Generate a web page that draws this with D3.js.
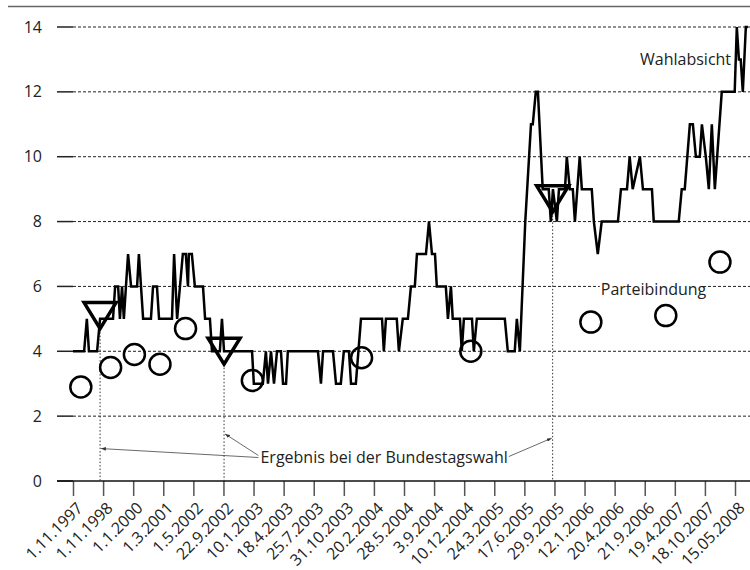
<!DOCTYPE html>
<html>
<head>
<meta charset="utf-8">
<script src="https://cdn.jsdelivr.net/npm/d3@7"></script>
<style>
  body { margin: 0; background: #fff; }
  svg { display: block; }
  text { font-family: "Open Sans", sans-serif; fill: #222; }
</style>
</head>
<body>
<script>
// tick labels of the x axis (one every 10 measurements)
const xLabels = ["1.11.1997", "1.11.1998", "1.1.2000", "1.3.2001", "1.5.2002", "22.9.2002",
  "10.1.2003", "18.4.2003", "25.7.2003", "31.10.2003", "20.2.2004", "28.5.2004", "3.9.2004",
  "10.12.2004", "24.3.2005", "17.6.2005", "29.9.2005", "12.1.2006", "20.4.2006", "21.9.2006",
  "19.4.2007", "18.10.2007", "15.05.2008"];
const yTicks = [0, 2, 4, 6, 8, 10, 12, 14];

// Wahlabsicht: measurement index and value at each corner of the line
const messpunkt = [0, 3.7, 4.6, 5.3, 8.0, 9.0, 13.3, 14.0, 15.0, 15.6, 16.3, 16.9, 18.3, 19.3,
  21.3, 21.9, 23.3, 25.9, 26.6, 27.9, 28.6, 32.9, 33.6, 34.6, 36.5, 37.5, 38.2, 38.5, 39.5,
  40.5, 43.2, 43.9, 45.5, 46.2, 48.8, 49.5, 50.2, 59.5, 60.1, 63.1, 64.1, 64.8, 65.8, 66.8,
  67.8, 69.1, 69.8, 70.8, 71.4, 81.4, 82.4, 83.1, 86.4, 87.4, 89.0, 90.0, 91.7, 92.4, 94.0,
  95.7, 102.7, 103.3, 104.0, 107.6, 108.3, 109.6, 111.3, 112.3, 113.6, 114.3, 117.3, 118.3,
  119.3, 120.3, 120.9, 123.9, 124.6, 125.6, 126.2, 128.6, 129.2, 129.9, 132.6, 133.2, 134.2,
  143.5, 144.5, 146.8, 147.5, 148.5, 150.3, 152.2, 152.8, 153.8, 154.5, 156.1, 158.1, 158.8,
  159.5, 160.8, 161.5, 163.5, 164.1, 165.1, 166.1, 166.8, 168.4, 169.1, 172.4, 173.1, 174.4,
  175.7, 181.1, 182.1, 184.1, 185.0, 186.0, 188.4, 189.4, 192.4, 193.0, 201.3, 202.3, 203.3,
  205.0, 206.0, 207.0, 208.3, 209.0, 210.3, 211.3, 212.3, 213.3, 215.6, 219.9, 220.6, 221.3,
  221.9, 222.6, 223.6, 224.3];
const wahlabsicht = [4, 4, 5, 4, 4, 5, 5, 6, 6, 5, 6, 5, 7, 6,
  6, 7, 5, 5, 6, 6, 5, 5, 7, 5, 7, 7, 6, 7, 7,
  6, 6, 5, 5, 4, 4, 5, 4, 4, 3, 3, 4, 3, 4, 3,
  4, 4, 3, 3, 4, 4, 3, 4, 4, 3, 3, 4, 4, 3, 3,
  5, 5, 4, 5, 5, 4, 5, 5, 6, 6, 7, 7, 8,
  7, 7, 6, 6, 5, 6, 5, 5, 4, 5, 5, 4, 5,
  5, 4, 4, 5, 4, 8, 11, 11, 12, 12, 9, 9, 8,
  9, 8, 9, 9, 10, 9, 9, 8, 10, 9, 9, 8, 7,
  8, 8, 9, 9, 10, 9, 10, 9, 9, 8, 8, 9, 9,
  11, 11, 10, 10, 11, 10, 9, 11, 9, 12, 12, 14, 13,
  13, 12, 14, 14];

// Ergebnis bei der Bundestagswahl (1998, 2002, 2005)
const wahlPos = [9.0, 50.2, 159.4];
const wahlErgebnis = [5.1, 4.0, 8.7];

// Parteibindung
const bindungPos = [2.6, 12.5, 20.4, 28.9, 37.4, 59.6, 95.9, 132.2, 172.1, 197.0, 215.0];
const bindungWert = [2.9, 3.5, 3.9, 3.6, 4.7, 3.1, 3.8, 4.0, 4.9, 5.1, 6.75];

const W = 750, H = 570;
const svg = d3.select("body").append("svg")
    .attr("width", W)
    .attr("height", H);

const x = d3.scaleLinear().domain([0, 220]).range([73, 735]);
const y = d3.scaleLinear().domain([0, 14]).range([481, 27]);

// top rule
svg.append("line")
    .attr("x1", 8).attr("x2", W)
    .attr("y1", 6.5).attr("y2", 6.5)
    .attr("stroke", "#666").attr("stroke-width", 1.5);

// dashed grid with a short solid stub at the left
svg.append("g").selectAll("line")
    .data(yTicks.filter(d => d > 0))
    .join("line")
    .attr("x1", 73).attr("x2", W)
    .attr("y1", d => y(d)).attr("y2", d => y(d))
    .attr("stroke", "#222").attr("stroke-width", 1)
    .attr("stroke-dasharray", "3,2");
svg.append("g").selectAll("line")
    .data(yTicks)
    .join("line")
    .attr("x1", 57).attr("x2", 73)
    .attr("y1", d => y(d)).attr("y2", d => y(d))
    .attr("stroke", "#222").attr("stroke-width", 1.5);

// y axis labels
svg.append("g")
    .attr("transform", "translate(57,0)")
    .call(d3.axisLeft(y).tickValues(yTicks).tickSize(0).tickPadding(15))
    .call(g => g.select(".domain").remove())
    .attr("font-size", 16)
    .selectAll("text").attr("fill", "#222");

// x axis
const xAxis = svg.append("g")
    .attr("transform", `translate(0,${y(0)})`)
    .call(d3.axisBottom(x)
        .tickValues(d3.range(0, 221, 10))
        .tickSize(15)
        .tickFormat((d, i) => xLabels[i]))
    .attr("font-size", 16);
xAxis.select(".domain").remove();
xAxis.selectAll(".tick line").attr("stroke", "#555").attr("stroke-width", 1.5);
xAxis.selectAll(".tick text")
    .attr("fill", "#222")
    .attr("x", null).attr("y", null)
    .attr("dy", "0.72em")
    .attr("text-anchor", "end")
    .attr("transform", "translate(2,20) rotate(-45)");
svg.append("line")
    .attr("x1", 57).attr("x2", W)
    .attr("y1", y(0)).attr("y2", y(0))
    .attr("stroke", "#111").attr("stroke-width", 1.5);

// dotted drop lines at the elections
svg.append("g").selectAll("line")
    .data(wahlPos)
    .join("line")
    .attr("x1", d => x(d)).attr("x2", d => x(d))
    .attr("y1", (d, i) => y(wahlErgebnis[i]) + 13).attr("y2", y(0))
    .attr("stroke", "#333").attr("stroke-width", 1)
    .attr("stroke-dasharray", "1.5,2");

// Wahlabsicht line
const line = d3.line()
    .x(d => x(d[0]))
    .y(d => y(d[1]));
svg.append("path")
    .datum(d3.zip(messpunkt, wahlabsicht))
    .attr("d", line)
    .attr("fill", "none")
    .attr("stroke", "#000")
    .attr("stroke-width", 2.5)
    .attr("stroke-linejoin", "miter");

// election result triangles
svg.append("g").selectAll("path")
    .data(wahlPos)
    .join("path")
    .attr("d", (d, i) => {
        const cx = x(d), cy = y(wahlErgebnis[i]);
        return `M${cx - 16},${cy - 13}L${cx + 16},${cy - 13}L${cx},${cy + 13}Z`;
    })
    .attr("fill", "none")
    .attr("stroke", "#000")
    .attr("stroke-width", 3.5)
    .attr("stroke-linejoin", "miter");

// Parteibindung circles
svg.append("g").selectAll("circle")
    .data(bindungPos)
    .join("circle")
    .attr("cx", d => x(d))
    .attr("cy", (d, i) => y(bindungWert[i]))
    .attr("r", 10.5)
    .attr("fill", "none")
    .attr("stroke", "#000")
    .attr("stroke-width", 2.5);

// labels
svg.append("text")
    .attr("x", x(218.7)).attr("y", y(12.83))
    .attr("text-anchor", "end")
    .attr("font-size", 16)
    .text("Wahlabsicht");

const pb = svg.append("g");
const pbText = pb.append("text")
    .attr("x", x(175.4)).attr("y", y(5.73))
    .attr("font-size", 16)
    .text("Parteibindung");
const pbBox = pbText.node().getBBox();
pb.insert("rect", "text")
    .attr("x", pbBox.x - 1).attr("y", pbBox.y + 2)
    .attr("width", pbBox.width + 2).attr("height", pbBox.height - 4)
    .attr("fill", "#fff");

// annotation with leader arrows
svg.append("defs").append("marker")
    .attr("id", "arrow")
    .attr("viewBox", "0 0 8 6")
    .attr("refX", 8).attr("refY", 3)
    .attr("markerWidth", 6).attr("markerHeight", 4.5)
    .attr("orient", "auto")
    .append("path")
    .attr("d", "M0,0L8,3L0,6Z")
    .attr("fill", "#333");

const ann = svg.append("text")
    .attr("x", x(62.3)).attr("y", y(0.57))
    .attr("font-size", 16)
    .text("Ergebnis bei der Bundestagswahl");
const annBox = ann.node().getBBox();
const annY = y(0.57) - 6;
const leaders = [
    [annBox.x - 2, annY + 1, x(wahlPos[0]) + 1, y(1.0)],
    [annBox.x - 2, annY - 1, x(wahlPos[1]) + 1, y(1.45)],
    [annBox.x + annBox.width + 1, annY, x(wahlPos[2]) - 1, y(1.32)]
];
svg.append("g").selectAll("line")
    .data(leaders)
    .join("line")
    .attr("x1", d => d[0]).attr("y1", d => d[1])
    .attr("x2", d => d[2]).attr("y2", d => d[3])
    .attr("stroke", "#444").attr("stroke-width", 0.8)
    .attr("marker-end", "url(#arrow)");
</script>
</body>
</html>
